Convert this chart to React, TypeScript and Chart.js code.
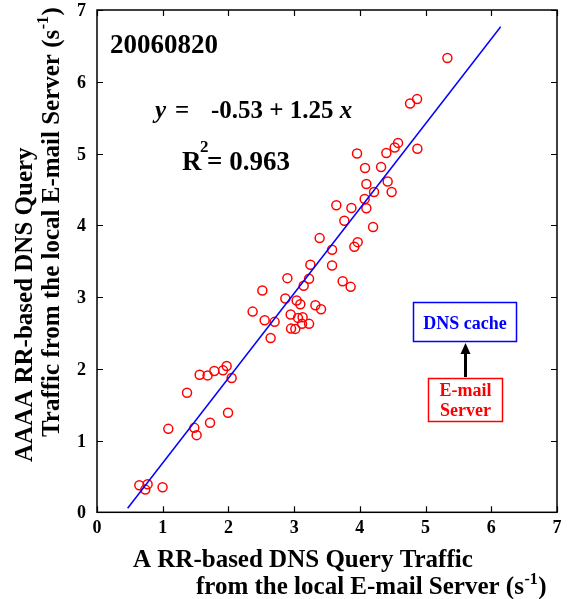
import React, { useEffect, useRef } from "react";
import { Chart, registerables } from "chart.js";

Chart.register(...registerables);

// ---- data ----
const pointX = [
  0.644, 0.770, 0.735, 0.998, 1.085, 1.481, 1.516, 1.720, 1.994, 1.370,
  1.562, 1.683, 1.785, 1.918, 1.973, 2.049, 2.642, 2.368, 2.516, 2.551,
  2.703, 2.897, 2.866, 2.947, 2.953, 3.018, 3.038, 3.094, 3.059, 3.129,
  3.120, 3.227, 3.145, 3.227, 3.247, 3.323, 3.409, 3.577, 3.577, 3.738,
  3.860, 3.388, 3.764, 3.642, 3.871, 3.916, 3.967, 4.201, 4.073, 4.099,
  4.099, 4.216, 4.484, 4.423, 4.079, 4.323, 3.957, 4.403, 4.530, 4.581,
  4.875, 4.764, 4.871, 5.332,
];
const pointY = [
  0.377, 0.391, 0.316, 0.349, 1.163, 1.177, 1.075, 1.247, 1.387, 1.666,
  1.918, 1.908, 1.969, 1.978, 2.039, 1.872, 2.430, 2.797, 3.091, 2.676,
  2.654, 3.263, 2.979, 2.756, 2.560, 2.556, 2.951, 2.899, 2.709, 2.718,
  2.626, 2.626, 3.156, 3.254, 3.450, 2.885, 2.830, 3.440, 3.659, 3.221,
  3.142, 3.821, 4.064, 4.278, 4.240, 3.701, 3.765, 3.975, 4.366, 4.236,
  4.575, 4.464, 4.464, 4.609, 4.799, 4.813, 5.000, 5.008, 5.084, 5.148,
  5.067, 5.698, 5.758, 6.331,
];
const fitX = [0.466, 6.143];
const fitY = [0.056, 6.767];
const xTicks = [0, 1, 2, 3, 4, 5, 6, 7];
const yTicks = [0, 1, 2, 3, 4, 5, 6, 7];
const dateLabel = "20060820";
const eqIntercept = "-0.53";
const eqSlope = "1.25";
const rSquared = "0.963";
const xTitle1 = "A RR-based DNS Query Traffic";
const xTitle2 = "from the local E-mail Server (s";
const yTitle1 = "AAAA RR-based DNS Query";
const yTitle2 = "Traffic from the local E-mail Server (s";
const cacheLabel = "DNS cache";
const serverLabel = ["E-mail", "Server"];

const SERIF = '"Liberation Serif", "Times New Roman", serif';
const f = (size: number, style = "") => `${style} bold ${size}px ${SERIF}`.trim();

function drawUnitTitle(ctx: CanvasRenderingContext2D, text: string, x: number, y: number, size: number) {
  ctx.font = f(size);
  ctx.fillText(text, x, y);
  let cx = x + ctx.measureText(text).width;
  ctx.font = f(Math.round(size * 0.62));
  ctx.fillText("-1", cx + 0.5, y - size * 0.42);
  cx += ctx.measureText("-1").width + 1;
  ctx.font = f(size);
  ctx.fillText(")", cx, y);
}

export default function App() {
  const ref = useRef<HTMLCanvasElement>(null);

  useEffect(() => {
    const canvas = ref.current!;
    const overlay = {
      id: "overlay",
      afterDatasetsDraw(chart: any) {
        const ctx: CanvasRenderingContext2D = chart.ctx;
        const { left, right, top, bottom } = chart.chartArea;
        const xs = chart.scales.x;
        const ys = chart.scales.y;
        ctx.save();
        // frame
        ctx.strokeStyle = "#000";
        ctx.lineWidth = 1.5;
        ctx.strokeRect(left, top, right - left, bottom - top);
        // inward ticks
        ctx.lineWidth = 1.2;
        ctx.beginPath();
        for (const v of xTicks) {
          const px = Math.round(xs.getPixelForValue(v)) + 0.5;
          ctx.moveTo(px, bottom); ctx.lineTo(px, bottom - 6);
          ctx.moveTo(px, top); ctx.lineTo(px, top + 6);
        }
        for (const v of yTicks) {
          const py = Math.round(ys.getPixelForValue(v)) + 0.5;
          ctx.moveTo(left, py); ctx.lineTo(left + 6, py);
          ctx.moveTo(right, py); ctx.lineTo(right - 6, py);
        }
        ctx.stroke();

        // tick labels
        ctx.fillStyle = "#000";
        ctx.font = f(18);
        ctx.textBaseline = "alphabetic";
        ctx.textAlign = "center";
        for (const v of xTicks) {
          ctx.fillText(String(v), xs.getPixelForValue(v), 533);
        }
        ctx.textAlign = "right";
        for (const v of yTicks) {
          ctx.fillText(String(v), left - 11, ys.getPixelForValue(v) + 6);
        }

        ctx.textAlign = "left";

        // date label
        ctx.font = f(27);
        ctx.fillText(dateLabel, 110, 53);

        // regression equation
        ctx.font = f(25, "italic");
        ctx.fillText("y", 155, 118);
        ctx.font = f(25);
        ctx.fillText("=", 175, 118);
        const eq = `${eqIntercept} + ${eqSlope} `;
        ctx.fillText(eq, 211, 118);
        const eqW = ctx.measureText(eq).width;
        ctx.font = f(25, "italic");
        ctx.fillText("x", 211 + eqW, 118);

        // R^2
        ctx.font = f(27);
        ctx.fillText("R", 182, 170);
        ctx.font = f(17);
        ctx.fillText("2", 200, 152);
        ctx.font = f(27);
        ctx.fillText(`= ${rSquared}`, 207, 170);

        // x axis title
        ctx.font = f(25);
        ctx.fillText(xTitle1, 133, 567);
        drawUnitTitle(ctx, xTitle2, 196, 594, 25);

        // y axis title (rotated)
        ctx.save();
        ctx.translate(32, 462);
        ctx.rotate(-Math.PI / 2);
        ctx.font = f(25);
        ctx.fillText(yTitle1, 0, 0);
        ctx.restore();
        ctx.save();
        ctx.translate(58.5, 437);
        ctx.rotate(-Math.PI / 2);
        drawUnitTitle(ctx, yTitle2, 0, 0, 25);
        ctx.restore();

        // DNS cache box
        ctx.fillStyle = "#fff";
        ctx.fillRect(413.5, 302.5, 103, 39);
        ctx.strokeStyle = "#0000ff";
        ctx.lineWidth = 1.5;
        ctx.strokeRect(413.5, 302.5, 103, 39);
        ctx.fillStyle = "#0000ff";
        ctx.font = f(18);
        ctx.textAlign = "center";
        ctx.fillText(cacheLabel, 465, 329);

        // E-mail server box
        ctx.fillStyle = "#fff";
        ctx.fillRect(428.5, 378.5, 74, 43);
        ctx.strokeStyle = "#ff0000";
        ctx.strokeRect(428.5, 378.5, 74, 43);
        ctx.fillStyle = "#ff0000";
        ctx.fillText(serverLabel[0], 465.5, 396);
        ctx.fillText(serverLabel[1], 465.5, 416);

        // arrow
        ctx.strokeStyle = "#000";
        ctx.fillStyle = "#000";
        ctx.lineWidth = 3;
        ctx.beginPath();
        ctx.moveTo(465.5, 377);
        ctx.lineTo(465.5, 352);
        ctx.stroke();
        ctx.beginPath();
        ctx.moveTo(465.5, 343);
        ctx.lineTo(460.5, 354);
        ctx.lineTo(470.5, 354);
        ctx.closePath();
        ctx.fill();

        ctx.restore();
      },
    };

    const chart = new Chart(canvas, {
      type: "scatter",
      data: {
        datasets: [
          {
            type: "line",
            data: fitX.map((x, i) => ({ x, y: fitY[i] })),
            borderColor: "#0000ff",
            borderWidth: 1.5,
            pointRadius: 0,
            showLine: true,
            fill: false,
          } as any,
          {
            data: pointX.map((x, i) => ({ x, y: pointY[i] })),
            borderColor: "#ff0000",
            backgroundColor: "rgba(0,0,0,0)",
            borderWidth: 1.5,
            pointRadius: 4.5,
          },
        ],
      },
      options: {
        responsive: false,
        maintainAspectRatio: false,
        animation: false,
        events: [],
        layout: { padding: { top: 10, right: 12, left: 0, bottom: 0 } },
        plugins: { legend: { display: false }, tooltip: { enabled: false } },
        scales: {
          x: {
            type: "linear",
            min: 0,
            max: 7,
            grid: { display: false },
            border: { display: false },
            ticks: { stepSize: 1, display: false },
            afterFit: (s: any) => {
              s.height = 86.7;
              s.paddingLeft = 0;
              s.paddingRight = 0;
            },
          },
          y: {
            type: "linear",
            min: 0,
            max: 7,
            grid: { display: false },
            border: { display: false },
            ticks: { stepSize: 1, display: false },
            afterFit: (s: any) => {
              s.width = 97;
              s.paddingTop = 0;
              s.paddingBottom = 0;
            },
          },
        },
      },
      plugins: [overlay],
    });
    return () => chart.destroy();
  }, []);

  return (
    <div style={{ position: "absolute", left: 0, top: 0, width: 569, height: 599, background: "#fff" }}>
      <canvas ref={ref} width={569} height={599} />
    </div>
  );
}
